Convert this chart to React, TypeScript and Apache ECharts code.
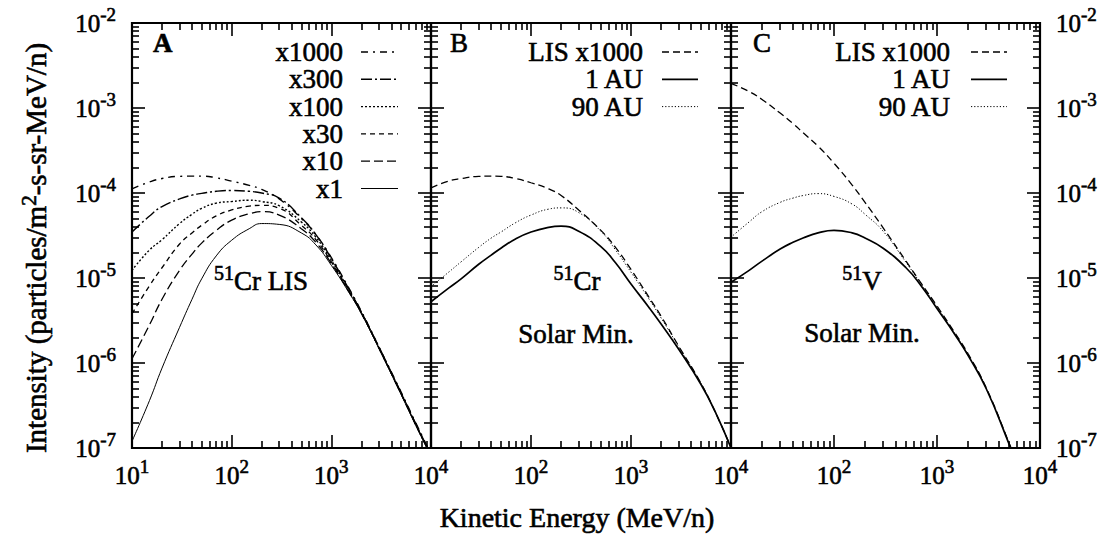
import React, { useEffect, useRef } from "react";
import * as echarts from "echarts";

// ---------- data ----------
const energy = [10, 15, 20, 30, 40, 50, 70, 100, 150, 200, 300, 500, 700, 1000, 1500, 2000, 3000, 5000, 7000, 10000];

// Panel A: 51Cr LIS for different factors
const crLisX1 = [1.2e-7, 3.63e-7, 8.71e-7, 2.63e-6, 5.62e-6, 9.77e-6, 1.82e-5, 2.78e-5, 3.8e-5, 4.37e-5, 4.27e-5, 3.39e-5, 2.45e-5, 1.41e-5, 6.76e-6, 3.8e-6, 1.48e-6, 4.27e-7, 1.86e-7, 7.94e-8];
const crLisX10 = [1.12e-6, 2.82e-6, 5.62e-6, 1.23e-5, 1.91e-5, 2.57e-5, 3.63e-5, 4.79e-5, 5.69e-5, 6.03e-5, 5.5e-5, 3.8e-5, 2.63e-5, 1.48e-5, 6.92e-6, 3.89e-6, 1.51e-6, 4.37e-7, 1.91e-7, 8.13e-8];
const crLisX30 = [3.8e-6, 8.13e-6, 1.32e-5, 2.51e-5, 3.39e-5, 4.17e-5, 5.37e-5, 6.31e-5, 7.0e-5, 7.16e-5, 6.61e-5, 4.17e-5, 2.82e-5, 1.55e-5, 7.08e-6, 3.89e-6, 1.51e-6, 4.37e-7, 1.91e-7, 8.13e-8];
const crLisX100 = [1.23e-5, 2.14e-5, 2.82e-5, 4.37e-5, 5.62e-5, 6.61e-5, 7.59e-5, 7.94e-5, 8.22e-5, 7.94e-5, 7.08e-5, 4.57e-5, 3.02e-5, 1.62e-5, 7.24e-6, 3.98e-6, 1.51e-6, 4.47e-7, 1.91e-7, 8.13e-8];
const crLisX300 = [3.47e-5, 5.37e-5, 6.92e-5, 8.51e-5, 9.44e-5, 9.89e-5, 1.047e-4, 1.07e-4, 1.047e-4, 1.0e-4, 8.71e-5, 5.13e-5, 3.24e-5, 1.7e-5, 7.41e-6, 3.98e-6, 1.55e-6, 4.47e-7, 1.95e-7, 8.32e-8];
const crLisX1000 = [1.12e-4, 1.35e-4, 1.48e-4, 1.57e-4, 1.58e-4, 1.58e-4, 1.51e-4, 1.38e-4, 1.23e-4, 1.1e-4, 8.51e-5, 5.01e-5, 3.24e-5, 1.74e-5, 7.59e-6, 4.07e-6, 1.55e-6, 4.57e-7, 2.0e-7, 8.51e-8];

// Panel B: 51Cr, solar minimum
const crLis1000 = [1.15e-4, 1.38e-4, 1.48e-4, 1.57e-4, 1.58e-4, 1.57e-4, 1.48e-4, 1.32e-4, 1.12e-4, 9.33e-5, 6.31e-5, 3.63e-5, 2.29e-5, 1.26e-5, 6.03e-6, 3.55e-6, 1.58e-6, 5.8e-7, 2.6e-7, 1.02e-7];
const cr1AU = [5.25e-6, 7.59e-6, 9.77e-6, 1.45e-5, 1.86e-5, 2.24e-5, 2.88e-5, 3.47e-5, 3.94e-5, 4.07e-5, 3.55e-5, 2.34e-5, 1.51e-5, 8.51e-6, 4.57e-6, 2.88e-6, 1.45e-6, 5.62e-7, 2.63e-7, 1.0e-7];
const cr90AU = [7.94e-6, 1.17e-5, 1.55e-5, 2.29e-5, 2.95e-5, 3.47e-5, 4.47e-5, 5.5e-5, 6.46e-5, 6.68e-5, 5.89e-5, 3.55e-5, 2.14e-5, 1.17e-5, 5.75e-6, 3.39e-6, 1.55e-6, 5.75e-7, 2.6e-7, 1.01e-7];

// Panel C: 51V, solar minimum
const vLis1000 = [1.95e-3, 1.56e-3, 1.26e-3, 8.71e-4, 6.55e-4, 5.13e-4, 3.55e-4, 2.24e-4, 1.24e-4, 7.76e-5, 3.89e-5, 1.58e-5, 8.71e-6, 4.68e-6, 2.24e-6, 1.29e-6, 5.13e-7, 1.15e-7, 4.07e-8, 1.45e-8];
const v1AU = [8.91e-6, 1.23e-5, 1.58e-5, 2.19e-5, 2.63e-5, 2.95e-5, 3.39e-5, 3.63e-5, 3.39e-5, 2.95e-5, 2.24e-5, 1.32e-5, 8.13e-6, 4.37e-6, 2.14e-6, 1.23e-6, 5.01e-7, 1.12e-7, 3.98e-8, 1.41e-8];
const v90AU = [3.02e-5, 4.57e-5, 6.03e-5, 7.76e-5, 8.71e-5, 9.33e-5, 9.84e-5, 9.12e-5, 7.41e-5, 5.62e-5, 3.55e-5, 1.53e-5, 8.51e-6, 4.57e-6, 2.19e-6, 1.26e-6, 5.07e-7, 1.14e-7, 4.03e-8, 1.43e-8];

// ticks
const xMajorTicks = [10, 100, 1000, 10000];
const xLabelsFirst = [10, 100, 1000, 10000];
const xLabelsOther = [100, 1000, 10000];
const yMajorTicks = [1e-7, 1e-6, 1e-5, 1e-4, 1e-3, 1e-2];
const minorDigits = [2, 3, 4, 5, 6, 7, 8, 9];
const xMinorDecades = [10, 100, 1000];
const yMinorDecades = [1e-7, 1e-6, 1e-5, 1e-4, 1e-3];

const panelLetters = ["A", "B", "C"];
const legendA = ["x1000", "x300", "x100", "x30", "x10", "x1"];
const legendBC = ["LIS x1000", "1 AU", "90 AU"];

// ---------- styling ----------
const FONT = "Liberation Serif";
const BLACK = "#000";
const TEXT_STROKE = 0.6;

const xMinorTicks = xMinorDecades.flatMap((d) => minorDigits.map((m) => m * d));
const yMinorTicks = yMinorDecades.flatMap((d) => minorDigits.map((m) => parseFloat((m * d).toPrecision(3))));

const grids = [
  { left: 132, top: 23, width: 299, height: 425 },
  { left: 431, top: 23, width: 300, height: 425 },
  { left: 731, top: 23, width: 309, height: 425 },
];

const styles: Record<string, { dash: any; width: number }> = {
  x1000: { dash: [7, 5, 2, 5], width: 1.4 },
  x300: { dash: [11, 3, 2, 3], width: 1.4 },
  x100: { dash: [2, 2], width: 1.4 },
  x30: { dash: [5, 4], width: 1.3 },
  x10: { dash: [9, 4], width: 1.3 },
  x1: { dash: "solid", width: 1 },
  "LIS x1000": { dash: [7, 4], width: 1.3 },
  "1 AU": { dash: "solid", width: 1.7 },
  "90 AU": { dash: [1.2, 2], width: 1 },
};

const richLabel = {
  b: { fontSize: 25, fontFamily: FONT, color: BLACK, fill: BLACK, lineHeight: 36, textBorderColor: BLACK, textBorderWidth: TEXT_STROKE },
  s: { fontSize: 19, fontFamily: FONT, color: BLACK, fill: BLACK, lineHeight: 20, verticalAlign: "top", textBorderColor: BLACK, textBorderWidth: TEXT_STROKE },
};

const powLabel = (v: number) => {
  const e = Math.round(Math.log10(v));
  return `{b|10}{s|${e}}`;
};

function xAxisCfg(gi: number, pos: string, ticks: number[], len: number, labels?: number[]) {
  return {
    type: "log",
    logBase: 10,
    gridIndex: gi,
    position: pos,
    min: 10,
    max: 10000,
    axisLine: { show: false },
    splitLine: { show: false },
    axisTick: { show: true, inside: true, length: len, customValues: ticks, lineStyle: { color: BLACK, width: 1.6 } },
    axisLabel: labels
      ? { show: true, customValues: labels, formatter: powLabel, rich: richLabel, fontFamily: FONT, margin: 9, showMinLabel: true, showMaxLabel: true }
      : { show: false },
  };
}

function yAxisCfg(gi: number, pos: string, ticks: number[], len: number, labels?: number[]) {
  return {
    type: "log",
    logBase: 10,
    gridIndex: gi,
    position: pos,
    min: 1e-7,
    max: 1e-2,
    axisLine: { show: false },
    splitLine: { show: false },
    axisTick: { show: true, inside: true, length: len, customValues: ticks, lineStyle: { color: BLACK, width: 1.6 } },
    axisLabel: labels
      ? { show: true, customValues: labels, formatter: powLabel, rich: richLabel, fontFamily: FONT, margin: 16, showMinLabel: true, showMaxLabel: true }
      : { show: false },
  };
}

const pairs = (ys: number[]) => energy.map((e, i) => [e, ys[i]]);

const seriesDefs = [
  { g: 0, name: "x1000", data: crLisX1000 },
  { g: 0, name: "x300", data: crLisX300 },
  { g: 0, name: "x100", data: crLisX100 },
  { g: 0, name: "x30", data: crLisX30 },
  { g: 0, name: "x10", data: crLisX10 },
  { g: 0, name: "x1", data: crLisX1 },
  { g: 1, name: "LIS x1000", data: crLis1000 },
  { g: 1, name: "1 AU", data: cr1AU },
  { g: 1, name: "90 AU", data: cr90AU },
  { g: 2, name: "LIS x1000", data: vLis1000 },
  { g: 2, name: "1 AU", data: v1AU },
  { g: 2, name: "90 AU", data: v90AU },
];

function buildOption() {
  const xAxes: any[] = [];
  const yAxes: any[] = [];
  grids.forEach((_, gi) => {
    xAxes.push(xAxisCfg(gi, "bottom", xMajorTicks, 13, gi === 0 ? xLabelsFirst : xLabelsOther));
    xAxes.push(xAxisCfg(gi, "bottom", xMinorTicks, 7));
    xAxes.push(xAxisCfg(gi, "top", xMajorTicks, 13));
    xAxes.push(xAxisCfg(gi, "top", xMinorTicks, 7));
    yAxes.push(yAxisCfg(gi, "left", yMajorTicks, 13, gi === 0 ? yMajorTicks : undefined));
    yAxes.push(yAxisCfg(gi, "left", yMinorTicks, 7));
    yAxes.push(yAxisCfg(gi, "right", yMajorTicks, 13, gi === 2 ? yMajorTicks : undefined));
    yAxes.push(yAxisCfg(gi, "right", yMinorTicks, 7));
  });

  const series = seriesDefs.map((s) => {
    const st = styles[s.name];
    return {
      type: "line",
      name: s.name,
      xAxisIndex: s.g * 4,
      yAxisIndex: s.g * 4,
      data: pairs(s.data),
      showSymbol: false,
      symbol: "none",
      smooth: 0.5,
      clip: true,
      silent: true,
      lineStyle: { color: BLACK, width: st.width, type: st.dash },
    };
  });

  const graphics: any[] = [];
  const textStyle = (text: string, extra: any = {}) => ({
    text,
    fontSize: 27,
    fontFamily: FONT,
    fill: BLACK,
    stroke: BLACK,
    lineWidth: TEXT_STROKE,
    ...extra,
  });

  // panel letters
  const letterX = [153, 450, 753];
  panelLetters.forEach((l, i) => {
    graphics.push({
      type: "text",
      x: letterX[i],
      y: 43,
      style: textStyle(l, { align: "left", verticalAlign: "middle", fontWeight: i === 0 ? "bold" : "normal" }),
    });
  });

  // legends
  const rowY = [52, 79.3, 106.6, 133.9, 161.2, 188.5];
  const legendSpecs = [
    { names: legendA, textRight: 343, x1: 361, x2: 398 },
    { names: legendBC, textRight: 643, x1: 662, x2: 698 },
    { names: legendBC, textRight: 950, x1: 971, x2: 1007 },
  ];
  legendSpecs.forEach((spec) => {
    spec.names.forEach((n, i) => {
      const st = styles[n];
      graphics.push({
        type: "text",
        x: spec.textRight,
        y: rowY[i],
        style: textStyle(n, { align: "right", verticalAlign: "middle" }),
      });
      graphics.push({
        type: "line",
        shape: { x1: spec.x1, y1: rowY[i], x2: spec.x2, y2: rowY[i] },
        style: { stroke: BLACK, lineWidth: st.width, lineDash: st.dash === "solid" ? null : st.dash },
      });
    });
  });

  const richText = {
    b: { fontSize: 27, fontFamily: FONT, fill: BLACK, lineHeight: 36, stroke: BLACK, lineWidth: TEXT_STROKE },
    s: { fontSize: 20, fontFamily: FONT, fill: BLACK, lineHeight: 20, verticalAlign: "top", stroke: BLACK, lineWidth: TEXT_STROKE },
  };
  const annotations = [
    { x: 261, y: 281, text: "{s|51}{b|Cr LIS}" },
    { x: 577, y: 281, text: "{s|51}{b|Cr}" },
    { x: 576, y: 334, text: "{b|Solar Min.}" },
    { x: 862, y: 281, text: "{s|51}{b|V}" },
    { x: 862, y: 333, text: "{b|Solar Min.}" },
  ];
  annotations.forEach((a) => {
    graphics.push({
      type: "text",
      x: a.x,
      y: a.y,
      style: { text: a.text, rich: richText, align: "center", verticalAlign: "middle", fontFamily: FONT, fontSize: 27, fill: BLACK },
    });
  });

  // axis titles
  graphics.push({
    type: "text",
    x: 577,
    y: 517,
    style: textStyle("Kinetic Energy (MeV/n)", { align: "center", verticalAlign: "middle", fontSize: 28 }),
  });
  graphics.push({
    type: "text",
    x: 36,
    y: 248,
    rotation: Math.PI / 2,
    style: {
      text: "{b|Intensity (particles/m}{s|2}{b|-s-sr-MeV/n)}",
      rich: {
        b: { fontSize: 29, fontFamily: FONT, fill: BLACK, lineHeight: 36, stroke: BLACK, lineWidth: TEXT_STROKE },
        s: { fontSize: 21, fontFamily: FONT, fill: BLACK, lineHeight: 20, verticalAlign: "top", stroke: BLACK, lineWidth: TEXT_STROKE },
      },
      align: "center",
      verticalAlign: "middle",
      fontFamily: FONT,
      fontSize: 29,
      fill: BLACK,
    },
  });

  return {
    animation: false,
    backgroundColor: "#fff",
    textStyle: { fontFamily: FONT, color: BLACK },
    grid: grids.map((g) => ({ ...g, show: true, borderColor: BLACK, borderWidth: 2.2, backgroundColor: "transparent" })),
    xAxis: xAxes,
    yAxis: yAxes,
    series,
    graphic: graphics,
  };
}

export default function App() {
  const ref = useRef<HTMLDivElement>(null);
  useEffect(() => {
    if (!ref.current) return;
    const chart = echarts.init(ref.current, null, { renderer: "svg" });
    chart.setOption(buildOption() as any);
    return () => chart.dispose();
  }, []);
  return (
    <div
      ref={ref}
      style={{ position: "fixed", left: 0, top: 0, width: 1104, height: 534, background: "#fff" }}
    />
  );
}
